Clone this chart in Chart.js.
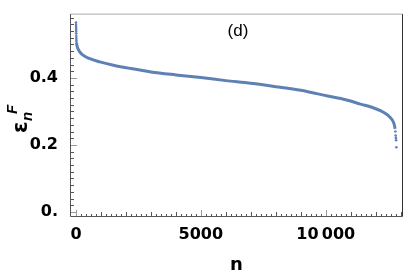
<!DOCTYPE html>
<html>
<head>
<meta charset="utf-8">
<script src="https://cdn.jsdelivr.net/npm/chart.js@4"></script>
<style>
  html, body { margin: 0; padding: 0; background: #fff; }
  #wrap { width: 407px; height: 280px; }
</style>
</head>
<body>
<div id="wrap"><canvas id="chart"></canvas></div>
<script>
// main body of the curve (n, eps)
const curveN   = [20, 40, 80, 150, 280, 500, 950, 1500, 2200, 3000, 4000, 5000, 6000, 7000, 8000, 9000, 10080, 10800, 11390, 11900, 12330, 12500, 12660, 12740, 12780];
const curveEps = [0.505, 0.496, 0.487, 0.478, 0.468, 0.459, 0.448, 0.438, 0.428, 0.418, 0.409, 0.401, 0.392, 0.384, 0.374, 0.363, 0.346, 0.335, 0.322, 0.311, 0.297, 0.288, 0.275, 0.262, 0.248];
// sparse points at both ends
const headN   = [0, 2, 4, 6, 8, 10, 12, 14, 16, 18];
const headEps = [0.565, 0.558, 0.552, 0.546, 0.540, 0.533, 0.526, 0.519, 0.513, 0.508];
const tailN   = [12790, 12800, 12810, 12820, 12830];
const tailEps = [0.240, 0.228, 0.221, 0.214, 0.193];

const yMajor = [0, 0.2, 0.4];
const yLabels = ['0.', '0.2', '0.4'];
const xMajor = [0, 5000, 10000];
const xLabels = ['0', '5000', '10\u2009000'];

const blue = '#5e81b5';
const tickFont = { family: '"DejaVu Sans", sans-serif', size: 16, weight: 'bold' };
const pts = (xs, ys) => xs.map((x, i) => ({ x: x, y: ys[i] }));

const frame = {
  id: 'frame',
  afterDatasetsDraw(chart) {
    const { ctx, chartArea: a, scales: { x, y } } = chart;
    ctx.save();
    ctx.lineWidth = 1;
    // y ticks, every 0.02
    for (let k = 0; k <= 29; k++) {
      const v = k * 0.02;
      const py = Math.round(y.getPixelForValue(v)) + 0.5;
      const major = k % 10 === 0;
      ctx.strokeStyle = major ? '#999' : '#555';
      ctx.beginPath();
      ctx.moveTo(a.left, py);
      ctx.lineTo(a.left + (major ? 7 : 4), py);
      ctx.stroke();
    }
    // x ticks, every 200
    for (let k = 0; k <= 65; k++) {
      const v = k * 200;
      const px = Math.round(x.getPixelForValue(v)) + 0.5;
      if (px > a.right) break;
      const major = v % 5000 === 0, mid = v % 1000 === 0;
      ctx.strokeStyle = major ? '#999' : '#555';
      ctx.beginPath();
      ctx.moveTo(px, a.bottom);
      ctx.lineTo(px, a.bottom - (major ? 7 : mid ? 5 : 3));
      ctx.stroke();
    }
    // frame
    const L = a.left + 0.5, R = a.right - 0.5, T = a.top + 0.5, B = a.bottom - 0.5;
    ctx.strokeStyle = '#aaa';
    ctx.beginPath(); ctx.moveTo(L, T); ctx.lineTo(R, T); ctx.stroke();
    ctx.strokeStyle = '#333';
    ctx.beginPath(); ctx.moveTo(R, T); ctx.lineTo(R, B); ctx.stroke();
    ctx.strokeStyle = '#555';
    ctx.beginPath(); ctx.moveTo(L, T); ctx.lineTo(L, B); ctx.lineTo(R, B); ctx.stroke();

    // panel tag
    ctx.fillStyle = '#000';
    ctx.font = '17px "Liberation Sans", Arial, sans-serif';
    ctx.textAlign = 'center';
    ctx.textBaseline = 'middle';
    ctx.fillText('(d)', 238, 31);

    // y title: epsilon_n^F, rotated
    ctx.translate(21, 116);
    ctx.rotate(-Math.PI / 2);
    ctx.textAlign = 'left';
    ctx.textBaseline = 'alphabetic';
    ctx.font = 'bold 21px "DejaVu Sans", sans-serif';
    ctx.fillText('\u03b5', -17, 6);
    ctx.font = 'bold italic 15px "Liberation Sans", Arial, sans-serif';
    ctx.fillText('n', -5, 11);
    ctx.fillText('F', 2, -4);
    ctx.restore();
  }
};

new Chart(document.getElementById('chart'), {
  type: 'scatter',
  data: {
    datasets: [
      { data: pts(curveN, curveEps), showLine: true, borderColor: blue, borderWidth: 3, pointRadius: 0, cubicInterpolationMode: 'monotone' },
      { data: pts(headN, headEps), borderColor: blue, backgroundColor: blue, pointRadius: 1.3, borderWidth: 0 },
      { data: pts(tailN, tailEps), borderColor: blue, backgroundColor: blue, pointRadius: 1.3, borderWidth: 0 }
    ]
  },
  options: {
    responsive: true,
    maintainAspectRatio: false,
    animation: false,
    layout: { padding: { top: 9, right: 1, left: 0, bottom: 0 } },
    plugins: { legend: { display: false }, tooltip: { enabled: false } },
    scales: {
      x: {
        type: 'linear', min: -240, max: 13095,
        grid: { display: false },
        border: { display: false },
        afterBuildTicks: s => { s.ticks = xMajor.map(v => ({ value: v })); },
        afterFit: s => { s.height = 63; },
        ticks: {
          padding: 0, color: '#000', font: tickFont,
          callback: (v) => xLabels[xMajor.indexOf(v)]
        },
        title: {
          display: true, text: 'n', color: '#000', padding: { top: 10 },
          font: { family: '"DejaVu Sans", sans-serif', size: 18, weight: 'bold' }
        }
      },
      y: {
        type: 'linear', min: -0.015, max: 0.592,
        grid: { display: false },
        border: { display: false },
        afterBuildTicks: s => { s.ticks = yMajor.map(v => ({ value: v })); },
        afterFit: s => { s.width = 70; },
        ticks: {
          padding: 4, color: '#000', font: tickFont,
          callback: (v) => yLabels[yMajor.indexOf(v)]
        }
      }
    }
  },
  plugins: [frame]
});
</script>
</body>
</html>
